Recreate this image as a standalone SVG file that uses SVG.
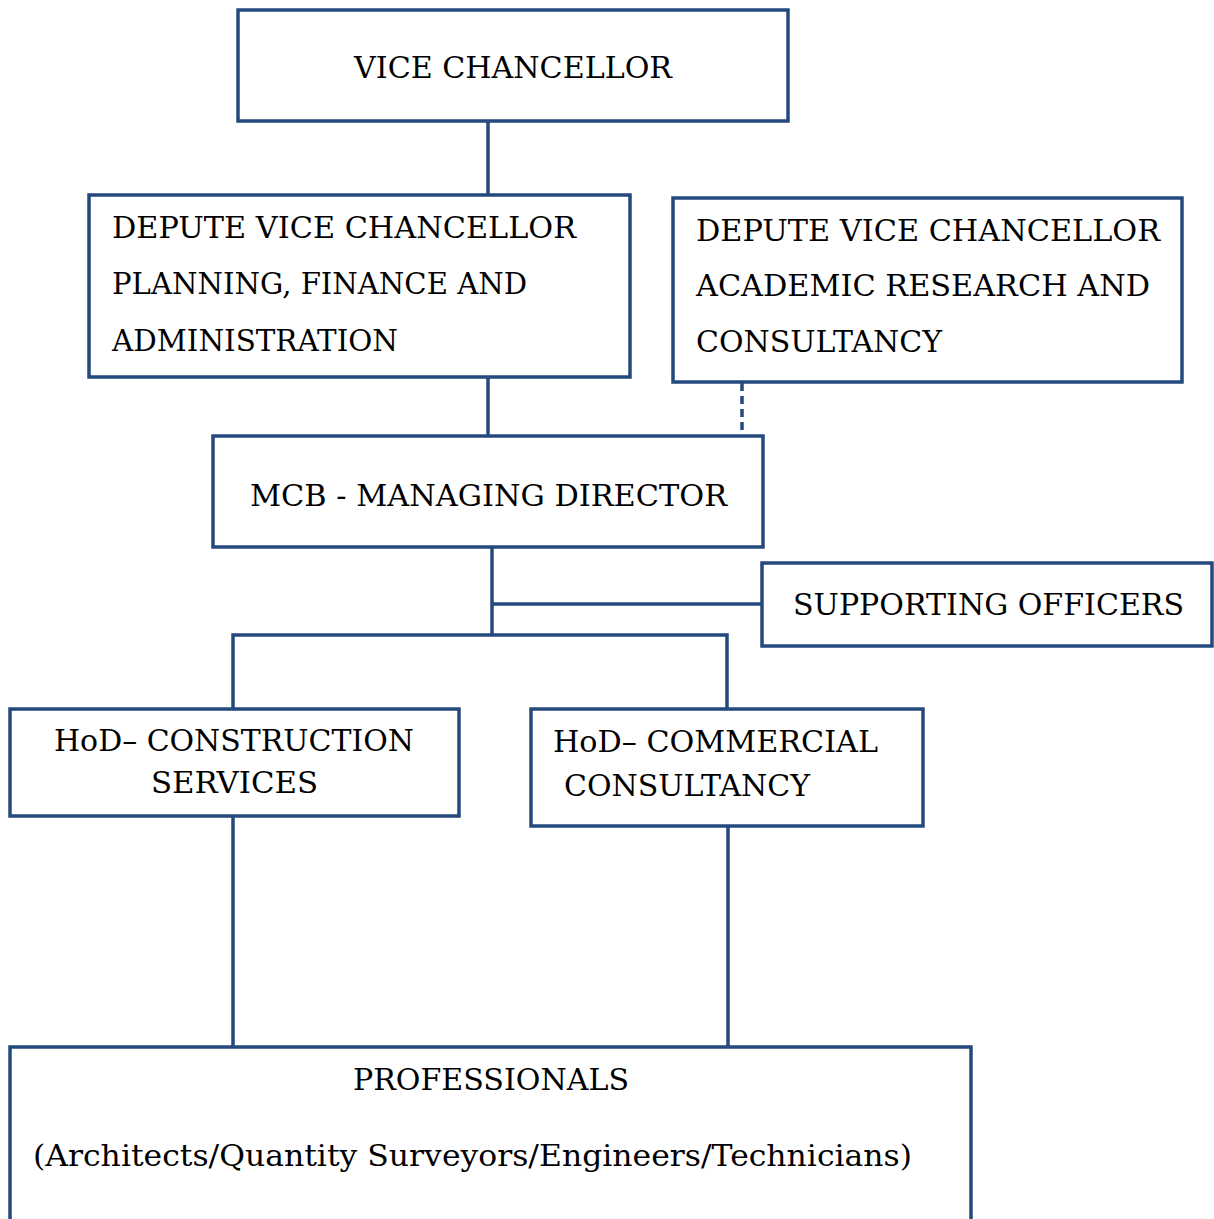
<svg xmlns="http://www.w3.org/2000/svg" width="1214" height="1219" viewBox="0 0 1214 1219">
<style>
.box{fill:#fff;stroke:#24497E;stroke-width:3.5}
.ln{stroke:#24497E;stroke-width:3.5;fill:none}
.dash{stroke:#24497E;stroke-width:3.5;fill:none;stroke-dasharray:8 5}
text{font-family:"DejaVu Serif","Liberation Serif",serif;font-size:30px;fill:#000}
.sm{font-size:29px}
</style>
<rect width="1214" height="1219" fill="#fff"/>
<g id="connectors">
<line class="ln" x1="488" y1="121" x2="488" y2="196"/>
<line class="ln" x1="488" y1="377" x2="488" y2="437"/>
<line class="dash" x1="742" y1="383" x2="742" y2="431"/>
<line class="ln" x1="492" y1="547" x2="492" y2="635"/>
<line class="ln" x1="492" y1="604" x2="762" y2="604"/>
<polyline class="ln" points="233,709 233,635 727,635 727,709"/>
<line class="ln" x1="233" y1="816" x2="233" y2="1047"/>
<line class="ln" x1="728" y1="826" x2="728" y2="1047"/>
</g>
<g id="vc">
<rect class="box" x="238" y="10" width="550" height="111"/>
<text x="354" y="78" textLength="318" lengthAdjust="spacingAndGlyphs">VICE CHANCELLOR</text>
</g>
<g id="dvc-pfa">
<rect class="box" x="89" y="195" width="541" height="182"/>
<text x="112" y="238" textLength="464" lengthAdjust="spacingAndGlyphs">DEPUTE VICE CHANCELLOR</text>
<text x="112" y="294" textLength="415" lengthAdjust="spacingAndGlyphs">PLANNING, FINANCE AND</text>
<text x="112" y="351" textLength="286" lengthAdjust="spacingAndGlyphs">ADMINISTRATION</text>
</g>
<g id="dvc-arc">
<rect class="box" x="673" y="198" width="509" height="184"/>
<text x="696" y="241" textLength="464" lengthAdjust="spacingAndGlyphs">DEPUTE VICE CHANCELLOR</text>
<text x="696" y="296" textLength="454" lengthAdjust="spacingAndGlyphs">ACADEMIC RESEARCH AND</text>
<text x="696" y="352" textLength="246" lengthAdjust="spacingAndGlyphs">CONSULTANCY</text>
</g>
<g id="mcb">
<rect class="box" x="213" y="436" width="550" height="111"/>
<text x="250" y="506" textLength="477" lengthAdjust="spacingAndGlyphs">MCB - MANAGING DIRECTOR</text>
</g>
<g id="supporting">
<rect class="box" x="762" y="563" width="450" height="83"/>
<text x="793" y="615" textLength="391" lengthAdjust="spacingAndGlyphs">SUPPORTING OFFICERS</text>
</g>
<g id="hod-construction">
<rect class="box" x="10" y="709" width="449" height="107"/>
<text x="54" y="751" textLength="360" lengthAdjust="spacingAndGlyphs">HoD– CONSTRUCTION</text>
<text x="151" y="793" textLength="167" lengthAdjust="spacingAndGlyphs">SERVICES</text>
</g>
<g id="hod-commercial">
<rect class="box" x="531" y="709" width="392" height="117"/>
<text x="553" y="752" textLength="325" lengthAdjust="spacingAndGlyphs">HoD– COMMERCIAL</text>
<text x="564" y="796" textLength="246" lengthAdjust="spacingAndGlyphs">CONSULTANCY</text>
</g>
<g id="professionals">
<rect class="box" x="10" y="1047" width="961" height="190"/>
<text class="sm" x="353" y="1090" textLength="276" lengthAdjust="spacingAndGlyphs">PROFESSIONALS</text>
<text class="sm" x="33" y="1166" textLength="879" lengthAdjust="spacingAndGlyphs">(Architects/Quantity Surveyors/Engineers/Technicians)</text>
</g>
</svg>
